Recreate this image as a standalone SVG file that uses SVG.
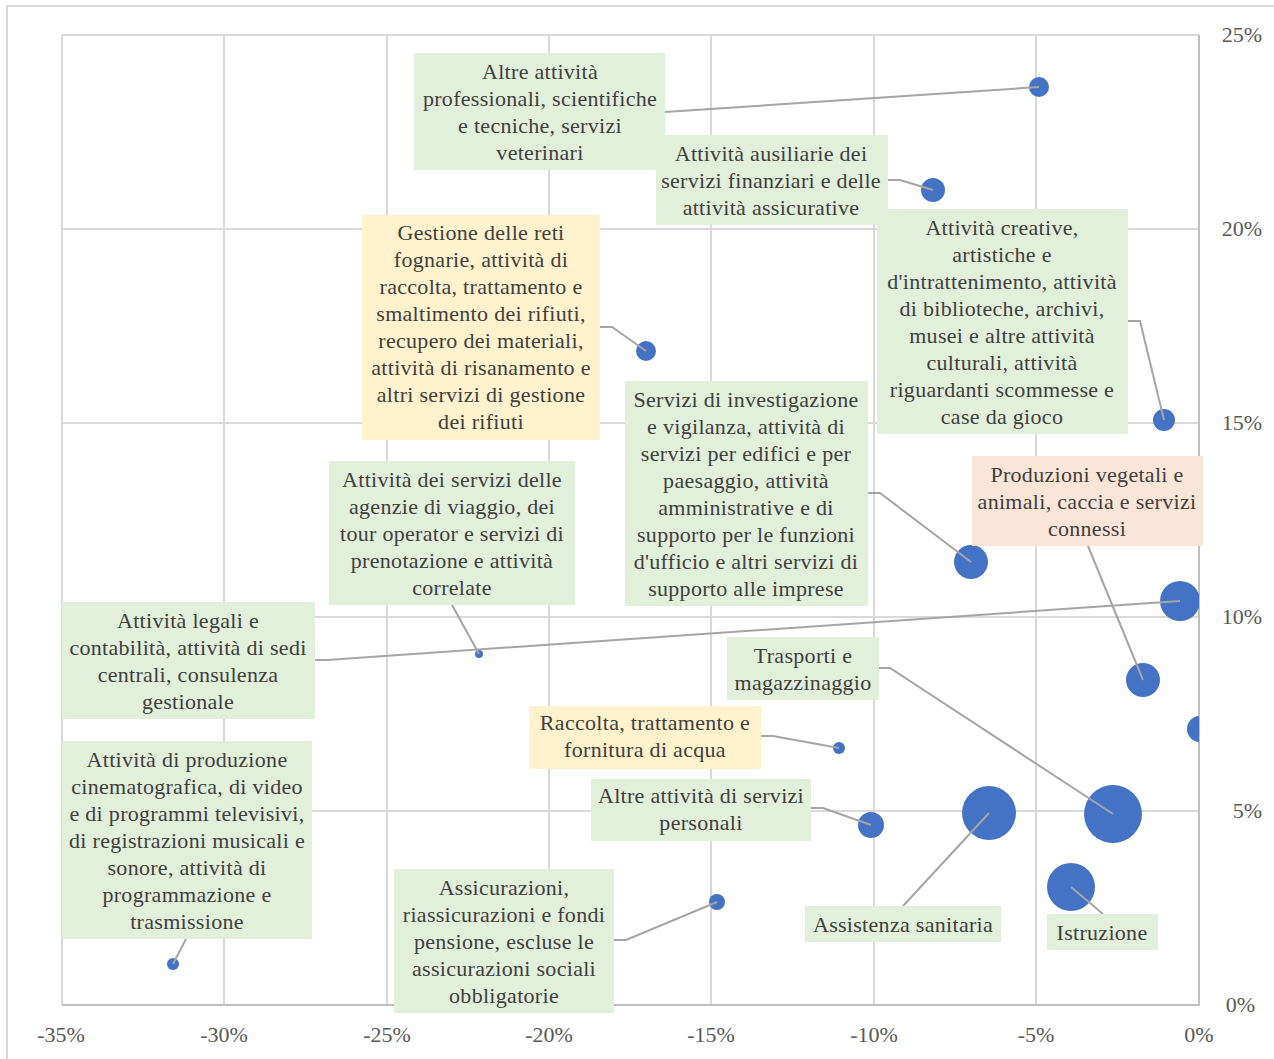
<svg xmlns="http://www.w3.org/2000/svg" width="1274" height="1059" viewBox="0 0 1274 1059">
<style>
.grid{stroke:#D9D9D9;stroke-width:2;fill:none}
.axis{stroke:#BFBFBF;stroke-width:2;fill:none}
.ax{font-family:"Liberation Serif",serif;font-size:22px;fill:#595959}
.lbl{font-family:"Liberation Serif",serif;font-size:22px;letter-spacing:0.3px;fill:#404040;text-anchor:middle}
.g{fill:#E2EFDA}
.y{fill:#FFF2CC}
.p{fill:#FBE5D6}
.b{fill:#4472C4}
.ld{stroke:#A5A5A5;stroke-width:2;fill:none}
</style>
<defs>
<clipPath id="plot"><rect x="62" y="35" width="1137" height="970"/></clipPath>
</defs>
<rect width="1274" height="1059" fill="#FFFFFF"/>
<path d="M7 1059 V6 H1274" stroke="#D9D9D9" stroke-width="2" fill="none"/>
<g id="grid">
<path class="grid" d="M62 35 V1005 M224 35 V1005 M387 35 V1005 M549 35 V1005 M711 35 V1005 M874 35 V1005 M1036 35 V1005"/>
<path class="grid" d="M62 35 H1199 M62 229 H1199 M62 423 H1199 M62 617 H1199 M62 811 H1199"/>
<path class="axis" d="M62 1005 H1199 V35"/>
</g>
<g id="axis-labels" class="ax">
<text x="61" y="1042" text-anchor="middle">-35%</text>
<text x="224" y="1042" text-anchor="middle">-30%</text>
<text x="387" y="1042" text-anchor="middle">-25%</text>
<text x="549" y="1042" text-anchor="middle">-20%</text>
<text x="711" y="1042" text-anchor="middle">-15%</text>
<text x="874" y="1042" text-anchor="middle">-10%</text>
<text x="1036" y="1042" text-anchor="middle">-5%</text>
<text x="1199" y="1042" text-anchor="middle">0%</text>
<text x="1262" y="42" text-anchor="end">25%</text>
<text x="1262" y="236" text-anchor="end">20%</text>
<text x="1262" y="430" text-anchor="end">15%</text>
<text x="1262" y="624" text-anchor="end">10%</text>
<text x="1262" y="818" text-anchor="end">5%</text>
<text x="1255" y="1012" text-anchor="end">0%</text>
</g>
<g id="bubbles" clip-path="url(#plot)">
<circle class="b" cx="1039" cy="87" r="10"/>
<circle class="b" cx="933" cy="190" r="12"/>
<circle class="b" cx="646" cy="351" r="10"/>
<circle class="b" cx="1164" cy="420" r="11"/>
<circle class="b" cx="971" cy="562" r="17"/>
<circle class="b" cx="1143" cy="680" r="17"/>
<circle class="b" cx="479" cy="654" r="4"/>
<circle class="b" cx="1180" cy="601" r="20"/>
<circle class="b" cx="1200" cy="729" r="13"/>
<circle class="b" cx="1113" cy="814" r="29"/>
<circle class="b" cx="839" cy="748" r="6"/>
<circle class="b" cx="871" cy="825" r="13"/>
<circle class="b" cx="989" cy="813" r="27"/>
<circle class="b" cx="1071" cy="887" r="24"/>
<circle class="b" cx="173" cy="964" r="6"/>
<circle class="b" cx="717" cy="902" r="8"/>
</g>
<g id="connectors">
<path class="ld" d="M665 112 L1039 87"/>
<path class="ld" d="M888 180 H900 L933 190"/>
<path class="ld" d="M600 327 H612 L646 351"/>
<path class="ld" d="M1128 321 H1140 L1164 420"/>
<path class="ld" d="M868 493 H880 L971 562"/>
<path class="ld" d="M1088 546 L1143 680"/>
<path class="ld" d="M452 605 L479 654"/>
<path class="ld" d="M315 660 H327 L1180 601"/>
<path class="ld" d="M879 668 H890 L1113 814"/>
<path class="ld" d="M761 736 H773 L839 748"/>
<path class="ld" d="M811 808 H823 L871 825"/>
<path class="ld" d="M903 906 L989 813"/>
<path class="ld" d="M1103 914 L1071 887"/>
<path class="ld" d="M186 939 L173 964"/>
<path class="ld" d="M614 940 H626 L717 902"/>
</g>
<g id="n-altre-prof">
<rect class="g" x="414" y="53" width="251" height="117"/>
<text class="lbl"><tspan x="540" y="79">Altre attività</tspan><tspan x="540" y="106">professionali, scientifiche</tspan><tspan x="540" y="133">e tecniche, servizi</tspan><tspan x="540" y="160">veterinari</tspan></text>
</g>
<g id="n-ausiliarie">
<rect class="g" x="656" y="135" width="232" height="90"/>
<text class="lbl"><tspan x="771" y="161">Attività ausiliarie dei</tspan><tspan x="771" y="188">servizi finanziari e delle</tspan><tspan x="771" y="215">attività assicurative</tspan></text>
</g>
<g id="n-gestione">
<rect class="y" x="362" y="215" width="238" height="225"/>
<text class="lbl"><tspan x="481" y="240">Gestione delle reti</tspan><tspan x="481" y="267">fognarie, attività di</tspan><tspan x="481" y="294">raccolta, trattamento e</tspan><tspan x="481" y="321">smaltimento dei rifiuti,</tspan><tspan x="481" y="348">recupero dei materiali,</tspan><tspan x="481" y="375">attività di risanamento e</tspan><tspan x="481" y="402">altri servizi di gestione</tspan><tspan x="481" y="429">dei rifiuti</tspan></text>
</g>
<g id="n-creative">
<rect class="g" x="877" y="209" width="251" height="225"/>
<text class="lbl"><tspan x="1002" y="235">Attività creative,</tspan><tspan x="1002" y="262">artistiche e</tspan><tspan x="1002" y="289">d'intrattenimento, attività</tspan><tspan x="1002" y="316">di biblioteche, archivi,</tspan><tspan x="1002" y="343">musei e altre attività</tspan><tspan x="1002" y="370">culturali, attività</tspan><tspan x="1002" y="397">riguardanti scommesse e</tspan><tspan x="1002" y="424">case da gioco</tspan></text>
</g>
<g id="n-investigazione">
<rect class="g" x="625" y="381" width="243" height="225"/>
<text class="lbl"><tspan x="746" y="407">Servizi di investigazione</tspan><tspan x="746" y="434">e vigilanza, attività di</tspan><tspan x="746" y="461">servizi per edifici e per</tspan><tspan x="746" y="488">paesaggio, attività</tspan><tspan x="746" y="515">amministrative e di</tspan><tspan x="746" y="542">supporto per le funzioni</tspan><tspan x="746" y="569">d'ufficio e altri servizi di</tspan><tspan x="746" y="596">supporto alle imprese</tspan></text>
</g>
<g id="n-produzioni">
<rect class="p" x="972" y="456" width="231" height="90"/>
<text class="lbl"><tspan x="1087" y="482">Produzioni vegetali e</tspan><tspan x="1087" y="509">animali, caccia e servizi</tspan><tspan x="1087" y="536">connessi</tspan></text>
</g>
<g id="n-agenzie">
<rect class="g" x="329" y="461" width="246" height="144"/>
<text class="lbl"><tspan x="452" y="487">Attività dei servizi delle</tspan><tspan x="452" y="514">agenzie di viaggio, dei</tspan><tspan x="452" y="541">tour operator e servizi di</tspan><tspan x="452" y="568">prenotazione e attività</tspan><tspan x="452" y="595">correlate</tspan></text>
</g>
<g id="n-legali">
<rect class="g" x="62" y="602" width="253" height="117"/>
<text class="lbl"><tspan x="188" y="628">Attività legali e</tspan><tspan x="188" y="655">contabilità, attività di sedi</tspan><tspan x="188" y="682">centrali, consulenza</tspan><tspan x="188" y="709">gestionale</tspan></text>
</g>
<g id="n-trasporti">
<rect class="g" x="727" y="637" width="152" height="63"/>
<text class="lbl"><tspan x="803" y="663">Trasporti e</tspan><tspan x="803" y="690">magazzinaggio</tspan></text>
</g>
<g id="n-acqua">
<rect class="y" x="529" y="706" width="232" height="63"/>
<text class="lbl"><tspan x="645" y="730">Raccolta, trattamento e</tspan><tspan x="645" y="757">fornitura di acqua</tspan></text>
</g>
<g id="n-personali">
<rect class="g" x="591" y="779" width="220" height="62"/>
<text class="lbl"><tspan x="701" y="803">Altre attività di servizi</tspan><tspan x="701" y="830">personali</tspan></text>
</g>
<g id="n-cinema">
<rect class="g" x="62" y="741" width="250" height="198"/>
<text class="lbl"><tspan x="187" y="767">Attività di produzione</tspan><tspan x="187" y="794">cinematografica, di video</tspan><tspan x="187" y="821">e di programmi televisivi,</tspan><tspan x="187" y="848">di registrazioni musicali e</tspan><tspan x="187" y="875">sonore, attività di</tspan><tspan x="187" y="902">programmazione e</tspan><tspan x="187" y="929">trasmissione</tspan></text>
</g>
<g id="n-sanitaria">
<rect class="g" x="805" y="906" width="196" height="36"/>
<text class="lbl" x="903" y="932">Assistenza sanitaria</text>
</g>
<g id="n-istruzione">
<rect class="g" x="1047" y="914" width="111" height="36"/>
<text class="lbl" x="1102" y="940">Istruzione</text>
</g>
<g id="n-assicurazioni">
<rect class="g" x="394" y="869" width="220" height="144"/>
<text class="lbl"><tspan x="504" y="895">Assicurazioni,</tspan><tspan x="504" y="922">riassicurazioni e fondi</tspan><tspan x="504" y="949">pensione, escluse le</tspan><tspan x="504" y="976">assicurazioni sociali</tspan><tspan x="504" y="1003">obbligatorie</tspan></text>
</g>
</svg>
